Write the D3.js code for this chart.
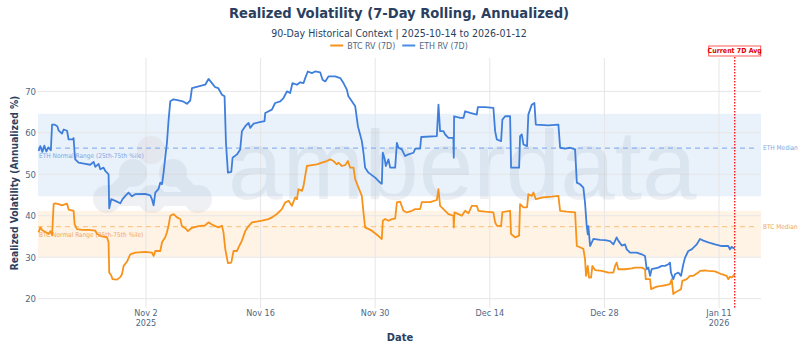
<!DOCTYPE html>
<html lang="en">
<head>
<meta charset="UTF-8">
<title>Realized Volatility (7-Day Rolling, Annualized)</title>
<script src="https://d3js.org/d3.v7.min.js"></script>
<style>
  body { margin: 0; background: #fff; }
  svg { display: block; font-family: "Liberation Sans Narrow", "Arial Narrow", "DejaVu Sans Condensed", sans-serif; }
</style>
</head>
<body>
<div id="chart"></div>
<script>
// period start, days below are offsets from it
const periodStart = Date.UTC(2025, 9, 14);

const ethDay = [5.88, 6.09, 6.34, 6.58, 6.83, 7.07, 7.38, 7.53, 7.80, 8.17, 8.32, 8.74, 8.94, 9.36, 9.55, 10.00, 10.16, 10.28, 10.36, 10.77,
  11.59, 12.19, 12.60, 12.81, 13.21, 13.42, 13.82, 14.03, 14.43, 14.51, 14.76, 15.25, 15.86, 16.14, 16.48, 16.87, 17.29, 17.69, 18.91, 19.52,
  19.73, 19.93, 20.14, 20.54, 20.75, 20.96, 21.15, 21.35, 21.56, 21.76, 21.97, 22.37, 22.98, 23.59, 24.00, 24.41, 24.62, 25.43, 26.24, 26.64,
  27.06, 27.46, 27.82, 28.28, 28.60, 28.77, 29.01, 29.42, 29.58, 30.11, 30.51, 30.72, 31.13, 31.53, 31.74, 32.13, 32.75, 33.48, 33.57, 34.38,
  34.78, 35.40, 35.80, 36.22, 36.61, 36.90, 37.44, 37.84, 38.25, 38.45, 38.77, 39.27, 39.67, 40.28, 40.57, 40.90, 41.29, 42.11, 42.73, 43.13,
  43.54, 43.73, 44.15, 44.56, 44.89, 45.37, 45.57, 45.77, 46.18, 47.00, 47.60, 47.81, 47.93, 48.13, 48.30, 48.62, 48.83, 49.44, 49.65, 49.84,
  50.25, 50.66, 51.06, 51.68, 51.89, 52.49, 52.62, 54.53, 54.73, 54.93, 55.34, 55.55, 55.95, 56.55, 56.60, 56.64, 57.38, 57.78, 57.99, 58.60,
  59.41, 59.54, 60.43, 61.44, 61.65, 61.86, 62.38, 62.54, 62.87, 63.48, 63.60, 64.58, 64.70, 64.91, 65.11, 65.55, 65.71, 66.13, 66.45, 66.62,
  68.16, 69.38, 69.59, 70.19, 70.81, 71.42, 71.63, 72.02, 72.43, 72.63, 72.84, 72.97, 73.04, 73.25, 73.66, 74.47, 75.08, 75.69, 76.10, 76.50,
  76.70, 77.12, 77.52, 77.73, 78.14, 78.94, 79.56, 79.96, 80.17, 80.37, 80.58, 80.77, 81.59, 82.00, 82.41, 82.81, 83.01, 83.13, 83.42, 83.62,
  84.03, 84.36, 84.64, 84.85, 85.25, 85.66, 86.28, 86.68, 87.09, 87.69, 88.51, 89.33, 90.13, 90.34, 90.55, 90.75, 90.92];
const ethRV = [55.6, 56.8, 55.4, 56.9, 55.5, 56.5, 55.8, 62.0, 62.0, 61.6, 60.6, 59.8, 60.8, 60.5, 58.4, 58.4, 58.7, 55.2, 53.6, 52.8,
  52.5, 52.3, 53.0, 51.8, 52.5, 51.2, 51.6, 50.8, 50.0, 41.8, 44.0, 43.6, 43.0, 44.0, 44.8, 45.6, 44.7, 45.2, 45.3, 44.9,
  44.0, 42.5, 45.6, 46.5, 48.0, 47.6, 50.4, 54.0, 57.6, 63.0, 67.6, 68.1, 67.8, 67.5, 67.0, 67.8, 70.8, 71.2, 71.6, 73.0,
  72.0, 71.0, 70.8, 69.2, 68.8, 57.6, 50.4, 50.6, 54.0, 54.8, 56.0, 60.4, 61.6, 62.4, 61.2, 62.2, 62.5, 62.8, 64.8, 65.6,
  67.2, 67.6, 68.4, 70.0, 69.6, 72.0, 71.6, 72.2, 72.0, 73.2, 74.8, 74.4, 74.8, 74.6, 72.8, 72.4, 73.6, 73.6, 73.2, 72.0,
  70.4, 68.8, 67.6, 66.4, 61.6, 58.0, 55.2, 51.6, 50.4, 49.2, 48.0, 47.7, 55.2, 54.0, 52.0, 53.6, 51.6, 51.6, 57.6, 56.4,
  56.0, 54.4, 54.8, 55.2, 56.2, 56.2, 59.0, 59.2, 66.8, 60.4, 60.4, 59.6, 58.8, 58.8, 54.0, 64.0, 63.6, 63.6, 65.2, 64.8,
  64.4, 66.2, 66.2, 66.0, 60.4, 58.4, 58.0, 63.2, 64.0, 64.0, 51.6, 51.6, 59.2, 59.6, 57.2, 56.8, 64.4, 66.8, 67.2, 62.0,
  61.8, 62.0, 56.4, 56.2, 56.4, 56.0, 48.0, 47.6, 46.8, 43.2, 37.5, 35.5, 37.5, 32.7, 34.4, 34.2, 34.1, 33.9, 33.1, 34.8,
  34.0, 32.8, 33.1, 31.9, 31.1, 31.1, 30.7, 30.3, 27.1, 27.5, 25.5, 27.1, 27.5, 27.9, 27.9, 28.3, 28.7, 26.3, 24.7, 25.9,
  26.3, 25.5, 28.3, 29.9, 31.5, 31.9, 33.1, 34.4, 34.0, 33.6, 33.1, 32.7, 32.7, 31.9, 32.5, 32.2, 32.3];

const btcDay = [5.88, 6.09, 6.34, 6.79, 7.11, 7.32, 7.53, 7.72, 7.92, 8.32, 8.74, 9.15, 9.36, 9.55, 10.16, 10.28, 10.57, 11.18, 12.00, 12.81,
  13.02, 13.63, 14.24, 14.43, 14.51, 14.76, 14.92, 15.46, 15.86, 16.07, 16.27, 16.67, 17.08, 17.69, 18.91, 19.73, 19.93, 20.14, 20.75, 20.96,
  21.35, 21.56, 21.76, 21.97, 22.37, 22.79, 23.19, 23.39, 23.79, 24.13, 24.62, 25.43, 26.24, 26.64, 27.06, 27.46, 27.86, 28.28, 28.47, 28.68,
  29.01, 29.42, 29.70, 30.11, 30.30, 30.72, 31.13, 31.53, 31.95, 33.16, 33.97, 34.38, 34.99, 35.60, 36.01, 36.42, 36.82, 37.23, 37.44, 37.63,
  38.05, 38.25, 38.45, 38.66, 39.27, 39.88, 40.49, 41.10, 41.50, 41.91, 42.32, 42.52, 42.93, 43.33, 43.66, 43.94, 44.35, 44.56, 44.96, 45.37,
  45.57, 45.77, 46.59, 47.40, 47.81, 47.93, 48.22, 48.62, 49.04, 49.44, 49.65, 50.05, 50.45, 50.87, 51.48, 51.89, 52.49, 52.70, 53.71, 54.53,
  54.73, 54.93, 55.34, 55.95, 56.55, 56.60, 56.68, 57.17, 57.58, 57.99, 58.39, 58.80, 59.41, 59.61, 60.43, 61.44, 61.65, 61.86, 62.38, 62.54,
  63.48, 63.60, 64.09, 64.58, 64.70, 65.11, 65.55, 65.71, 66.13, 66.33, 66.62, 67.36, 68.57, 69.38, 69.59, 70.40, 71.42, 71.63, 72.02, 72.43,
  72.63, 72.76, 72.97, 73.12, 73.37, 73.53, 73.86, 74.68, 75.49, 76.10, 76.30, 76.50, 76.70, 77.52, 78.35, 78.74, 79.56, 79.96, 80.05, 80.58,
  80.70, 81.39, 82.00, 82.62, 83.01, 83.22, 83.42, 83.62, 84.03, 84.36, 84.52, 85.06, 85.45, 85.86, 86.47, 86.68, 87.29, 87.69, 88.51, 89.33,
  89.94, 90.13, 90.34, 90.55, 90.92];
const btcRV = [36.0, 37.2, 36.5, 36.0, 35.6, 36.3, 35.3, 42.8, 43.0, 42.8, 42.5, 42.8, 42.9, 41.5, 41.2, 38.0, 36.8, 36.6, 36.6, 36.4,
  35.6, 35.0, 34.8, 33.6, 26.3, 25.6, 24.7, 24.6, 25.2, 25.9, 27.9, 28.9, 30.7, 31.1, 31.3, 31.1, 30.3, 31.5, 31.5, 33.6,
  34.8, 36.0, 37.6, 40.0, 40.4, 39.6, 39.2, 37.5, 37.0, 36.3, 37.1, 37.5, 37.7, 38.4, 37.9, 37.5, 37.2, 37.6, 36.0, 32.0,
  28.6, 28.7, 31.5, 31.5, 32.3, 34.0, 36.3, 37.5, 38.4, 38.8, 39.2, 39.6, 40.4, 41.6, 43.2, 43.6, 42.4, 44.4, 44.0, 46.4,
  46.0, 47.2, 49.6, 52.0, 52.2, 52.4, 52.8, 53.2, 53.6, 53.2, 52.4, 52.8, 52.0, 52.2, 53.2, 51.6, 51.6, 48.8, 46.8, 44.8,
  40.8, 37.2, 36.4, 35.1, 34.4, 38.8, 39.2, 38.8, 39.2, 39.3, 43.2, 43.4, 41.2, 40.8, 41.2, 41.6, 41.6, 43.3, 43.3, 43.8,
  46.4, 42.4, 41.6, 40.4, 40.0, 37.2, 40.8, 40.4, 40.0, 41.2, 40.6, 42.4, 42.4, 41.2, 41.0, 40.8, 38.4, 37.6, 37.5, 40.9,
  41.2, 35.6, 34.8, 35.2, 42.8, 42.0, 42.0, 45.2, 44.8, 45.6, 44.0, 44.4, 44.6, 44.8, 41.2, 41.0, 40.8, 32.7, 32.4, 32.0,
  29.6, 25.5, 27.9, 25.1, 25.1, 27.9, 26.9, 26.7, 26.3, 26.3, 27.9, 28.7, 27.1, 27.1, 27.3, 27.5, 27.5, 27.1, 24.7, 24.7,
  22.3, 22.9, 23.1, 23.3, 23.5, 24.7, 21.1, 21.5, 21.9, 22.3, 24.3, 24.7, 25.5, 25.5, 26.3, 26.7, 26.8, 26.7, 26.6, 25.9,
  25.5, 24.7, 25.3, 25.1, 25.9];

// 25th-75th percentile bands and medians
const ethRange = [44.7, 64.6];
const ethMedian = 56.3;
const btcRange = [30.1, 41.2];
const btcMedian = 37.4;

const tickDates = ["2025-11-02", "2025-11-16", "2025-11-30", "2025-12-14", "2025-12-28", "2026-01-11"];
const yTicks = [20, 30, 40, 50, 60, 70];

const BTC = "#f7931a", ETH = "#3f7fdb";
const W = 800, H = 351;
const margin = {top: 58, right: 39, bottom: 43, left: 38};
const width = W - margin.left - margin.right;
const height = H - margin.top - margin.bottom;

const toDate = d => new Date(periodStart + d * 864e5);

const svg = d3.select("#chart").append("svg")
    .attr("width", W).attr("height", H);

const x = d3.scaleUtc()
    .domain([toDate(5.81), toDate(94.13)])
    .range([margin.left, margin.left + width]);
const y = d3.scaleLinear()
    .domain([17.75, 78.05])
    .range([margin.top + height, margin.top]);

// normal range bands
svg.append("rect")
    .attr("x", margin.left).attr("width", width)
    .attr("y", y(ethRange[1])).attr("height", y(ethRange[0]) - y(ethRange[1]))
    .attr("fill", "rgba(74,144,226,0.12)");
svg.append("rect")
    .attr("x", margin.left).attr("width", width)
    .attr("y", y(btcRange[1])).attr("height", y(btcRange[0]) - y(btcRange[1]))
    .attr("fill", "rgba(255,160,50,0.12)");

// grid
svg.append("g").selectAll("line").data(yTicks).join("line")
    .attr("x1", margin.left).attr("x2", margin.left + width)
    .attr("y1", d => y(d)).attr("y2", d => y(d))
    .attr("stroke", "#e6e6e6").attr("stroke-width", 1);
svg.append("g").selectAll("line").data(tickDates).join("line")
    .attr("x1", d => x(new Date(d))).attr("x2", d => x(new Date(d)))
    .attr("y1", margin.top).attr("y2", margin.top + height)
    .attr("stroke", "#e6e6e6").attr("stroke-width", 1);

// watermark
const wm = svg.append("g").attr("opacity", 0.1);
const blobs = [[107, 199], [133, 173], [173, 173], [198, 199], [152, 199]];
wm.append("path")
    .attr("d", "M107,199 L133,173 M173,173 L198,199 M107,199 L198,199")
    .attr("stroke", "#6b7a99").attr("stroke-width", 14).attr("stroke-linecap", "round").attr("fill", "none");
wm.selectAll("circle.b").data(blobs).join("circle")
    .attr("cx", d => d[0]).attr("cy", d => d[1]).attr("r", 14).attr("fill", "#6b7a99");
wm.append("circle").attr("cx", 151).attr("cy", 150).attr("r", 14).attr("fill", "#c98a8a");
wm.append("text")
    .attr("x", 228).attr("y", 199)
    .attr("font-family", "Liberation Sans, Arial, sans-serif")
    .attr("font-size", 98).attr("fill", "#6b7a99")
    .text("amberdata");

// median lines
const medians = [
  {v: ethMedian, c: "#8db4ee", label: "ETH Median", tc: "#7ea6df"},
  {v: btcMedian, c: "#fcc98c", label: "BTC Median", tc: "#f0a85a"}
];
medians.forEach(m => {
  svg.append("line")
      .attr("x1", margin.left).attr("x2", margin.left + width - 3)
      .attr("y1", y(m.v)).attr("y2", y(m.v))
      .attr("stroke", m.c).attr("stroke-width", 1.3).attr("stroke-dasharray", "5,4");
  svg.append("text")
      .attr("x", margin.left + width + 2).attr("y", y(m.v)).attr("dy", "0.35em")
      .attr("font-size", 6.5).attr("fill", m.tc)
      .text(m.label);
});
svg.append("text")
    .attr("x", margin.left + 1).attr("y", y(ethMedian) + 10)
    .attr("font-size", 6.5).attr("fill", "#7ea6df")
    .text("ETH Normal Range (25th-75th %ile)");
svg.append("text")
    .attr("x", margin.left + 1).attr("y", y(btcMedian) + 10)
    .attr("font-size", 6.5).attr("fill", "#f0a85a")
    .text("BTC Normal Range (25th-75th %ile)");

// series
const line = d3.line().x(d => x(toDate(d[0]))).y(d => y(d[1]));
svg.append("path")
    .datum(btcDay.map((d, i) => [d, btcRV[i]]))
    .attr("d", line).attr("fill", "none")
    .attr("stroke", BTC).attr("stroke-width", 1.8).attr("stroke-linejoin", "round");
svg.append("path")
    .datum(ethDay.map((d, i) => [d, ethRV[i]]))
    .attr("d", line).attr("fill", "none")
    .attr("stroke", ETH).attr("stroke-width", 1.8).attr("stroke-linejoin", "round");

// current marker
const lastX = x(toDate(ethDay[ethDay.length - 1]));
svg.append("line")
    .attr("x1", lastX).attr("x2", lastX)
    .attr("y1", margin.top - 1).attr("y2", margin.top + height)
    .attr("stroke", "#ff1a1a").attr("stroke-width", 1.4).attr("stroke-dasharray", "1.5,1.5");
svg.append("rect")
    .attr("x", lastX - 26).attr("y", 46).attr("width", 52).attr("height", 10)
    .attr("fill", "#fff").attr("stroke", "#ff3333").attr("stroke-width", 0.8);
svg.append("text")
    .attr("x", lastX).attr("y", 51).attr("dy", "0.35em")
    .attr("text-anchor", "middle").attr("font-size", 7).attr("font-weight", "bold")
    .attr("fill", "#e00000").text("Current 7D Avg");

// axes labels
svg.append("g").selectAll("text").data(yTicks).join("text")
    .attr("x", margin.left - 2).attr("y", d => y(d)).attr("dy", "0.35em")
    .attr("text-anchor", "end").attr("font-size", 9.5).attr("fill", "#506784")
    .text(d => d);

const fmt = d3.utcFormat("%b %-d");
const xt = svg.append("g").selectAll("text").data(tickDates).join("text")
    .attr("x", d => x(new Date(d))).attr("y", margin.top + height + 8)
    .attr("text-anchor", "middle").attr("font-size", 9).attr("fill", "#506784");
xt.append("tspan").attr("x", d => x(new Date(d))).text(d => fmt(new Date(d)));
xt.append("tspan").attr("x", d => x(new Date(d))).attr("dy", 9.5)
    .text((d, i) => (i === 0 || d.slice(0, 4) !== tickDates[i - 1].slice(0, 4)) ? d.slice(0, 4) : "");

svg.append("text")
    .attr("x", 400).attr("y", 340.5).attr("text-anchor", "middle")
    .attr("font-size", 11).attr("font-weight", "bold").attr("fill", "#2a3f5f")
    .text("Date");
svg.append("text")
    .attr("transform", "translate(18,183) rotate(-90)")
    .attr("text-anchor", "middle")
    .attr("font-size", 10.2).attr("font-weight", "bold").attr("fill", "#2a3f5f")
    .text("Realized Volatility (Annualized %)");

// titles
svg.append("text")
    .attr("x", 399).attr("y", 17.5).attr("text-anchor", "middle")
    .attr("font-size", 14.6).attr("font-weight", "bold").attr("fill", "#2a3f5f")
    .text("Realized Volatility (7-Day Rolling, Annualized)");
svg.append("text")
    .attr("x", 399).attr("y", 36.5).attr("text-anchor", "middle")
    .attr("font-size", 10.5).attr("fill", "#2a3f5f")
    .text("90-Day Historical Context | 2025-10-14 to 2026-01-12");

// legend
const legendItems = [{name: "BTC RV (7D)", c: BTC}, {name: "ETH RV (7D)", c: "#4a8de6"}];
const lg = svg.append("g");
let lx = 0;
legendItems.forEach(it => {
  const g = lg.append("g").attr("transform", `translate(${lx},0)`);
  g.append("line").attr("x1", 0).attr("x2", 13).attr("y1", 45.5).attr("y2", 45.5)
      .attr("stroke", it.c).attr("stroke-width", 2);
  const t = g.append("text").attr("x", 17).attr("y", 45.5).attr("dy", "0.35em")
      .attr("font-size", 8.8).attr("fill", "#506784").text(it.name);
  lx += 17 + t.node().getComputedTextLength() + 7;
});
lg.attr("transform", `translate(${399 - (lx - 7) / 2},0)`);
</script>
</body>
</html>
